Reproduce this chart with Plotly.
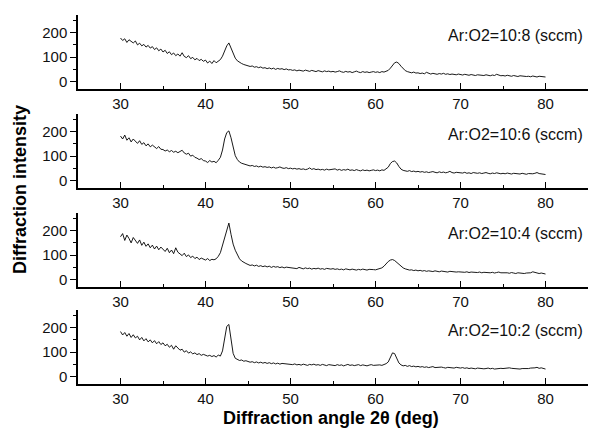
import numpy as np
import plotly.graph_objects as go
from plotly.subplots import make_subplots

# Difracción de rayos X para distintas relaciones de flujo Ar:O2
angle = np.round(np.arange(30, 80.0001, 0.25), 2)

labels = ['Ar:O2=10:8 (sccm)', 'Ar:O2=10:6 (sccm)', 'Ar:O2=10:4 (sccm)', 'Ar:O2=10:2 (sccm)']

ratio_10_8 = [
    178, 168, 175, 160, 171, 163, 158, 166, 150, 157, 146, 152, 141, 148, 137, 143, 131, 138, 126, 133,
    121, 128, 115, 122, 110, 117, 106, 113, 104, 118, 103, 98, 106, 94, 99, 89, 95, 86, 91, 83,
    88, 76, 84, 74, 86, 77, 82, 90, 104, 128, 146, 158, 136, 112, 96, 85, 78, 74, 70, 67,
    66, 62, 64, 59, 61, 57, 60, 55, 57, 53, 56, 52, 55, 50, 54, 51, 53, 49, 52, 48,
    49, 46, 48, 44, 47, 45, 43, 47, 44, 42, 46, 43, 41, 45, 42, 40, 44, 41, 43, 40,
    42, 39, 41, 44, 40, 38, 42, 39, 41, 37, 40, 43, 39, 37, 41, 38, 40, 37, 39, 41,
    38, 40, 37, 41, 39, 42, 46, 55, 68, 77, 80, 74, 63, 52, 45, 41, 38, 36, 39, 35,
    36, 33, 35, 32, 38, 33, 31, 34, 32, 30, 33, 31, 34, 30, 32, 29, 31, 30, 28, 31,
    29, 27, 30, 28, 26, 29, 27, 25, 28, 26, 27, 25, 28, 26, 24, 27, 25, 30, 26, 24,
    25, 23, 26, 24, 22, 25, 23, 21, 24, 22, 23, 21, 22, 20, 23, 21, 19, 22, 20, 21,
    19,
]

ratio_10_6 = [
    182, 170, 186, 165, 175, 158, 170, 160, 152, 163, 148, 155, 142, 150, 138, 145, 136, 131, 139, 128,
    127, 121, 125, 118, 123, 116, 120, 114, 119, 124, 113, 108, 112, 100, 104, 95, 92, 86, 90, 82,
    80, 74, 82, 76, 79, 73, 83, 95, 125, 170, 196, 203, 175, 132, 102, 86, 76, 71, 68, 65,
    63, 60, 62, 58, 60, 56, 59, 55, 57, 54, 56, 52, 55, 51, 53, 56, 52, 50, 53, 49,
    51, 48, 50, 47, 49, 46, 48, 45, 47, 52, 46, 49, 45, 47, 44, 46, 43, 47, 44, 45,
    44, 48, 43, 46, 42, 45, 43, 47, 42, 44, 41, 45, 42, 40, 44, 41, 43, 40, 42, 44,
    41, 43, 40, 44, 42, 47, 55, 70, 78, 80, 72, 58, 47, 42, 40, 38, 41, 37, 39, 36,
    38, 35, 37, 34, 36, 33, 35, 37, 34, 32, 36, 33, 35, 32, 34, 38, 33, 31, 34, 32,
    33, 31, 34, 30, 32, 29, 33, 31, 30, 32, 29, 31, 33, 30, 28, 31, 29, 32, 30, 28,
    30, 28, 31, 29, 27, 30, 28, 29, 27, 30, 28, 26, 29, 27, 28, 30, 33, 29, 27, 26,
    25,
]

ratio_10_4 = [
    175, 188, 160, 182, 168, 150, 172, 158, 148, 162, 140, 153, 136, 146, 130, 141, 125, 137, 122, 133,
    124, 115, 128, 110, 121, 106, 130, 112, 105, 98, 108, 94, 101, 90, 96, 86, 92, 82, 88, 84,
    80, 86, 78, 83, 81, 85, 95, 110, 140, 175, 210, 231, 185, 145, 120, 100, 85, 76, 70, 66,
    62, 58, 60, 56, 59, 54, 57, 53, 56, 52, 55, 50, 54, 51, 53, 49, 52, 48, 51, 50,
    49, 46, 48, 45, 50, 46, 44, 48, 45, 47, 43, 46, 44, 47, 43, 45, 42, 46, 44, 43,
    45, 42, 44, 41, 43, 40, 44, 42, 40, 43, 41, 39, 42, 40, 43, 41, 39, 42, 40, 41,
    40, 42, 44, 48, 55, 65, 74, 80, 82, 78, 70, 61, 54, 48, 44, 41, 39, 40, 37, 39,
    36, 38, 35, 37, 34, 36, 35, 33, 36, 34, 32, 35, 33, 34, 31, 34, 32, 33, 31, 32,
    31, 33, 30, 32, 29, 31, 30, 32, 29, 31, 28, 30, 29, 31, 28, 30, 27, 29, 31, 28,
    29, 27, 28, 26, 29, 27, 25, 28, 26, 27, 25, 27, 26, 28, 32, 29, 26, 25, 27, 24,
    23,
]

ratio_10_2 = [
    184, 170, 180, 165, 176, 160, 171, 158, 165, 150, 160, 146, 155, 142, 150, 138, 147, 134, 143, 131,
    138, 126, 132, 120, 128, 112, 126, 118, 108, 112, 100, 106, 96, 101, 93, 97, 90, 94, 87, 91,
    88, 84, 87, 82, 86, 80, 88, 84, 105, 160, 205, 213, 150, 95, 75, 70, 66, 68, 63, 65,
    62, 59, 61, 57, 60, 56, 59, 55, 58, 54, 57, 53, 56, 52, 55, 51, 54, 53, 50, 52,
    51, 49, 52, 48, 50, 47, 51, 49, 46, 50, 48, 51, 47, 49, 46, 50, 48, 45, 49, 47,
    48, 45, 49, 46, 48, 44, 47, 50, 46, 48, 45, 47, 49, 45, 48, 46, 44, 47, 49, 46,
    47, 45, 48, 46, 49, 53, 60, 78, 97, 94, 72, 56, 48, 44, 46, 42, 45, 41, 43, 40,
    42, 39, 41, 38, 40, 37, 39, 41, 37, 38, 36, 39, 37, 35, 38, 36, 37, 35, 38, 36,
    35, 37, 34, 36, 33, 35, 34, 32, 35, 33, 34, 32, 33, 35, 32, 34, 31, 33, 32, 34,
    33, 35, 37, 36, 34, 33, 35, 32, 31, 33, 32, 34, 33, 35, 34, 36, 38, 34, 36, 32,
    31,
]

FONT = 'Arial, Liberation Sans, sans-serif'


def main():
    series = [ratio_10_8, ratio_10_6, ratio_10_4, ratio_10_2]
    fig = make_subplots(rows=4, cols=1, shared_xaxes=False)
    W, H = 590, 434
    L, R = 78, 2
    # bandas en pixeles (top, bottom) de cada panel
    bands = [(15, 89), (114, 188), (213, 287), (310, 384)]

    for i, ys in enumerate(series):
        fig.add_trace(go.Scatter(x=angle, y=ys, mode='lines',
                                 line=dict(color='black', width=0.9),
                                 showlegend=False), row=i + 1, col=1)
        top, bot = bands[i]
        sfx = '' if i == 0 else str(i + 1)
        fig.layout['xaxis' + sfx].update(
            range=[25, 85], tickvals=[30, 40, 50, 60, 70, 80],
            ticks='inside', ticklen=6, tickwidth=1.2, tickcolor='black',
            minor=dict(dtick=5, tick0=25, ticks='inside', ticklen=3, tickcolor='black'),
            showline=True, linecolor='black', linewidth=1.5,
            showgrid=False, zeroline=False,
            tickfont=dict(family=FONT, size=15, color='#111'))
        fig.layout['yaxis' + sfx].update(
            domain=[1 - bot / H, 1 - top / H],
            range=[-30, 272], tickvals=[0, 100, 200],
            ticks='outside', ticklen=6, tickwidth=1.2, tickcolor='black',
            minor=dict(tickvals=[50, 150, 250], ticks='outside', ticklen=3, tickcolor='black'),
            showline=True, linecolor='black', linewidth=1.5,
            showgrid=False, zeroline=False,
            tickfont=dict(family=FONT, size=15, color='#111'))
        fig.add_annotation(x=84.6, y=188, xref='x' + sfx, yref='y' + sfx,
                           text=labels[i], showarrow=False,
                           xanchor='right', yanchor='middle',
                           font=dict(family=FONT, size=16, color='#111'))

    # titulos en pixeles -> fraccion del papel
    fig.add_annotation(x=(20 - L) / (W - L - R), y=1 - 190 / H, xref='paper', yref='paper',
                       xanchor='center', yanchor='middle', textangle=-90,
                       text='<b>Diffraction intensity</b>', showarrow=False,
                       font=dict(family=FONT, size=18, color='black'))
    fig.add_annotation(x=(331 - L) / (W - L - R), y=1 - 418 / H, xref='paper', yref='paper',
                       xanchor='center', yanchor='middle',
                       text='<b>Diffraction angle 2θ (deg)</b>', showarrow=False,
                       font=dict(family=FONT, size=18, color='black'))

    fig.update_layout(width=W, height=H, plot_bgcolor='white', paper_bgcolor='white',
                      margin=dict(l=L, r=R, t=0, b=0))
    fig.write_html('out.html', config={'displayModeBar': False},
                   post_script="document.body.style.margin='0px';")


if __name__ == '__main__':
    main()
